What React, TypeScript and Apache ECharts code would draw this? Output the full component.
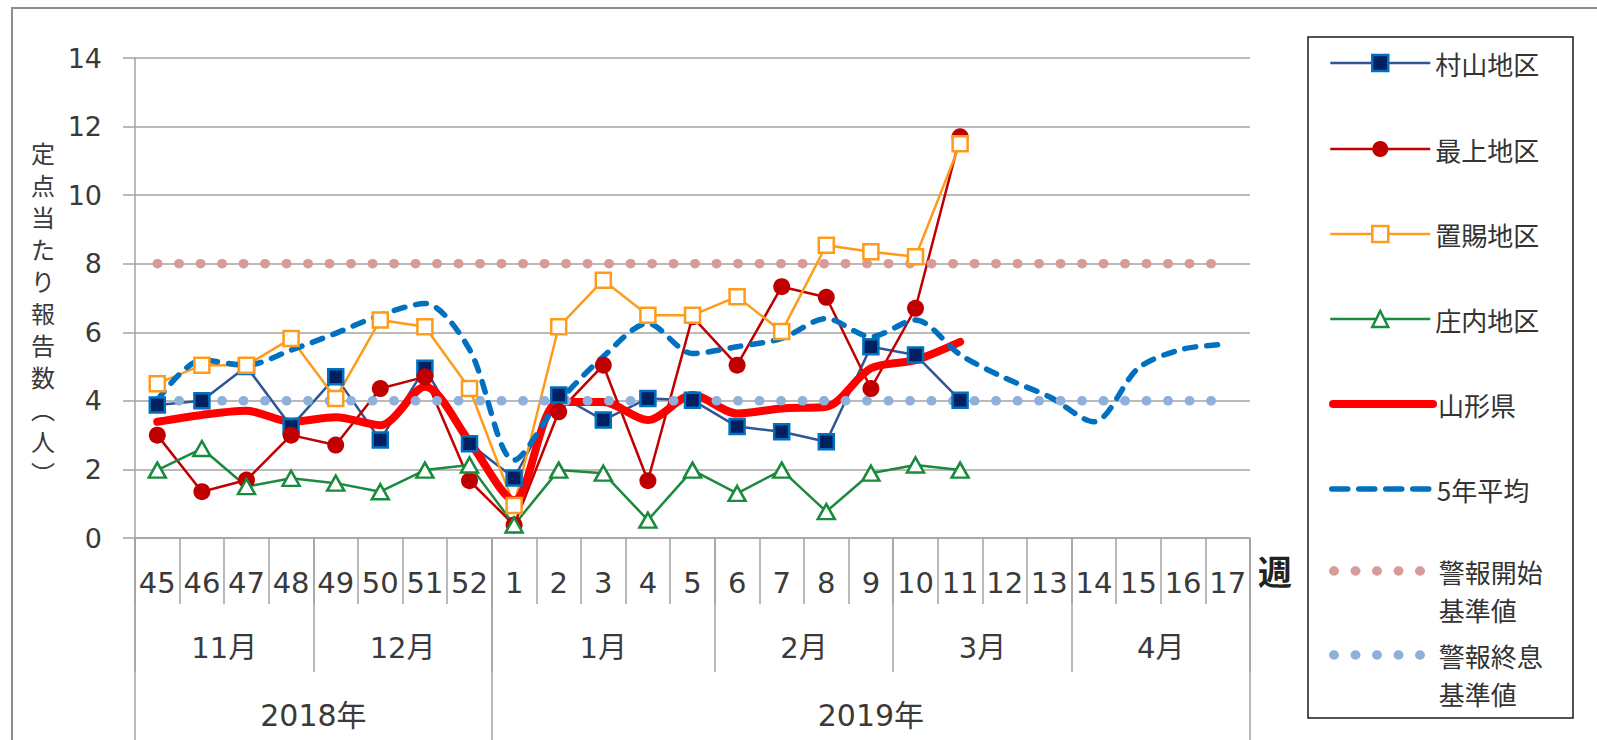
import React, { useEffect, useRef } from 'react';
import * as echarts from 'echarts';

const weeks = ['45', '46', '47', '48', '49', '50', '51', '52', '1', '2', '3', '4', '5', '6', '7', '8', '9', '10', '11', '12', '13', '14', '15', '16', '17'];

const murayama = [3.88, 4.0, 5.0, 3.25, 4.7, 2.86, 4.95, 2.75, 1.75, 4.17, 3.44, 4.07, 4.02, 3.25, 3.1, 2.81, 5.58, 5.34, 4.02];
const mogami = [3.0, 1.35, 1.69, 3.0, 2.71, 4.36, 4.7, 1.67, 0.38, 3.68, 5.04, 1.67, 6.45, 5.04, 7.33, 7.02, 4.36, 6.7, 11.7];
const okitama = [4.5, 5.04, 5.04, 5.82, 4.07, 6.36, 6.16, 4.36, 0.95, 6.16, 7.52, 6.5, 6.5, 7.04, 6.02, 8.54, 8.35, 8.2, 11.5];
const shonai = [1.98, 2.61, 1.5, 1.74, 1.6, 1.35, 1.98, 2.13, 0.38, 1.98, 1.89, 0.52, 1.98, 1.3, 1.98, 0.77, 1.89, 2.13, 1.98];
const yamagata = [3.39, 3.59, 3.71, 3.39, 3.52, 3.29, 4.41, 2.81, 1.1, 3.97, 3.97, 3.44, 4.17, 3.63, 3.78, 3.83, 4.95, 5.19, 5.72];
const avg5 = [4.02, 5.19, 5.04, 5.48, 5.97, 6.5, 6.84, 5.5, 2.27, 3.97, 5.29, 6.26, 5.38, 5.58, 5.82, 6.4, 5.87, 6.36, 5.35, 4.67, 4.12, 3.39, 4.96, 5.51, 5.65];
const alertStart = [8, 8, 8, 8, 8, 8, 8, 8, 8, 8, 8, 8, 8, 8, 8, 8, 8, 8, 8, 8, 8, 8, 8, 8, 8];
const alertEnd = [4, 4, 4, 4, 4, 4, 4, 4, 4, 4, 4, 4, 4, 4, 4, 4, 4, 4, 4, 4, 4, 4, 4, 4, 4];

const monthLabels = ['11月', '12月', '1月', '2月', '3月', '4月'];
const monthSpans = [4, 4, 5, 4, 4, 4];
const yearLabels = ['2018年', '2019年'];
const yearSpans = [8, 17];

const yMin = 0;
const yMax = 14;
const yStep = 2;

const yNameChars = ['定', '点', '当', 'た', 'り', '報', '告', '数', '︵', '人', '︶'];

const seriesNames = ['村山地区', '最上地区', '置賜地区', '庄内地区', '山形県', '5年平均', '警報開始\n基準値', '警報終息\n基準値'];

function buildGroups(labels: string[], spans: number[]) {
  const boundaries = new Set<number>([0]);
  const centers: Record<number, string> = {};
  let acc = 0;
  labels.forEach((lab, i) => {
    const start = acc;
    acc += spans[i];
    boundaries.add(acc * 2);
    centers[start + acc] = lab;
  });
  return { boundaries, centers };
}

const AXIS_GRAY = '#a3a3a3';
const TEXT = '#3a3a3a';

const C_MURA_LINE = '#2f5597';
const C_MURA_FILL = '#002060';
const C_MURA_BORDER = '#0070c0';
const C_MOGAMI = '#c00000';
const C_OKI = '#ff9b1a';
const C_SHONAI = '#1a8a3c';
const C_KEN = '#ff0000';
const C_AVG = '#0070c0';
const C_START = '#d99a9a';
const C_END = '#8fb0d9';

export default function App() {
  const ref = useRef<HTMLDivElement>(null);

  useEffect(() => {
    if (!ref.current) return;
    const chart = echarts.init(ref.current, null, { renderer: 'svg' });

    const halfSlots = Array.from({ length: weeks.length * 2 + 1 }, (_, i) => String(i));
    const months = buildGroups(monthLabels, monthSpans);
    const years = buildGroups(yearLabels, yearSpans);

    const groupAxis = (g: { boundaries: Set<number>; centers: Record<number, string> }, tickLen: number, margin: number, fontSize: number) => ({
      type: 'category',
      gridIndex: 0,
      position: 'bottom',
      data: halfSlots,
      boundaryGap: false,
      axisLine: { show: false, onZero: false },
      axisTick: {
        show: true,
        length: tickLen,
        interval: (index: number) => g.boundaries.has(index),
        lineStyle: { color: AXIS_GRAY, width: 1.5 },
      },
      axisLabel: {
        show: true,
        interval: (index: number) => g.centers[index] !== undefined,
        formatter: (_v: string, index: number) => g.centers[index] ?? '',
        margin,
        fontSize,
        fontFamily: 'DejaVu Sans, Noto Sans CJK JP',
        color: TEXT,
      },
      splitLine: { show: false },
    });

    const lineStyles: any[] = [
      { color: C_MURA_LINE, width: 2.5 },
      { color: C_MOGAMI, width: 2.5 },
      { color: C_OKI, width: 2.5 },
      { color: C_SHONAI, width: 2.5 },
      { color: C_KEN, width: 8, cap: 'round', join: 'round' },
      { color: C_AVG, width: 5.5, type: [11, 11], cap: 'round', join: 'round' },
      { color: C_START, width: 9.5, type: [0.5, 21], cap: 'round' },
      { color: C_END, width: 9.5, type: [0.5, 21], cap: 'round' },
    ];
    const itemStyles: any[] = [
      { color: C_MURA_FILL, borderColor: C_MURA_BORDER, borderWidth: 2.5 },
      { color: C_MOGAMI, borderColor: C_MOGAMI, borderWidth: 0 },
      { color: '#ffffff', borderColor: C_OKI, borderWidth: 2.5 },
      { color: '#ffffff', borderColor: C_SHONAI, borderWidth: 2.5 },
      { color: C_KEN, opacity: 0 },
      { color: C_AVG, opacity: 0 },
      { color: C_START, opacity: 0 },
      { color: C_END, opacity: 0 },
    ];

    const legendCenters = [63, 149, 234, 319, 404, 489, 571, 655];
    const legends = seriesNames.map((name, i) => {
      const twoLine = name.indexOf('\n') >= 0;
      const lh = twoLine ? 38 : 33;
      const ls = { ...lineStyles[i] };
      if (i === 5) ls.type = [16, 11];
      return {
        show: true,
        orient: 'vertical',
        left: 1329,
        top: twoLine ? legendCenters[i] - 57 : legendCenters[i] - 16.5,
        padding: 0,
        itemWidth: 100,
        itemHeight: 20,
        selectedMode: false,
        data: [name],
        formatter: twoLine ? (n: string) => '\n' + n : undefined,
        itemStyle: itemStyles[i],
        lineStyle: ls,
        textStyle: {
          fontSize: 26,
          fontFamily: 'Noto Sans CJK JP',
          color: '#333',
          lineHeight: lh,
        },
      };
    });

    const yName = '{s| }\n' + yNameChars.map((ch) => `{a|${ch}}`).join('\n');

    const option: any = {
      animation: false,
      backgroundColor: '#fff',
      grid: { left: 135, right: 347, top: 58, bottom: 202, containLabel: false, outerBoundsMode: 'none' },
      legend: legends,
      xAxis: [
        {
          type: 'category',
          gridIndex: 0,
          position: 'bottom',
          data: weeks,
          boundaryGap: true,
          axisLine: { show: true, onZero: false, lineStyle: { color: AXIS_GRAY, width: 1.5 } },
          axisTick: { show: true, length: 66, interval: 0, lineStyle: { color: AXIS_GRAY, width: 1.5 } },
          axisLabel: { interval: 0, margin: 30, fontSize: 29, fontFamily: 'DejaVu Sans', color: TEXT },
          splitLine: { show: false },
          name: '週',
          nameLocation: 'end',
          nameGap: 8,
          nameTextStyle: {
            fontSize: 34,
            fontWeight: 'bold',
            fontFamily: 'Noto Sans CJK JP',
            color: '#222',
            align: 'left',
            verticalAlign: 'top',
            padding: [16, 0, 0, 0],
          },
        },
        groupAxis(months, 134, 95, 29),
        groupAxis(years, 220, 162, 30),
      ],
      yAxis: {
        type: 'value',
        min: yMin,
        max: yMax,
        interval: yStep,
        axisLine: { show: true, lineStyle: { color: AXIS_GRAY, width: 1.5 } },
        axisTick: { show: true, length: 12, lineStyle: { color: AXIS_GRAY, width: 1.5 } },
        splitLine: { show: true, lineStyle: { color: AXIS_GRAY, width: 1.5 } },
        axisLabel: { fontSize: 27, fontFamily: 'DejaVu Sans', color: TEXT, margin: 33 },
        name: yName,
        nameLocation: 'middle',
        nameRotate: 0,
        nameGap: 92,
        nameTextStyle: {
          fontSize: 24,
          fontFamily: 'Noto Sans CJK JP',
          color: TEXT,
          align: 'center',
          verticalAlign: 'middle',
          rich: {
            s: { fontSize: 10, lineHeight: 28, color: TEXT },
            a: { fontSize: 24, lineHeight: 32, fontFamily: 'Noto Sans CJK JP', color: TEXT },
          },
        },
      },
      graphic: [
        {
          type: 'rect',
          silent: true,
          shape: { x: 12, y: 8, width: 1700, height: 800 },
          style: { fill: 'none', stroke: '#8c8c8c', lineWidth: 2 },
        },
        {
          type: 'rect',
          silent: true,
          shape: { x: 1308, y: 37, width: 265, height: 681 },
          style: { fill: 'none', stroke: '#1a1a1a', lineWidth: 1.5 },
        },
      ],
      series: [
        {
          name: seriesNames[0],
          type: 'line',
          data: murayama,
          symbol: 'rect',
          symbolSize: 15,
          showAllSymbol: true,
          lineStyle: lineStyles[0],
          itemStyle: itemStyles[0],
        },
        {
          name: seriesNames[1],
          type: 'line',
          data: mogami,
          symbol: 'circle',
          symbolSize: 17,
          showAllSymbol: true,
          lineStyle: lineStyles[1],
          itemStyle: itemStyles[1],
        },
        {
          name: seriesNames[2],
          type: 'line',
          data: okitama,
          symbol: 'rect',
          symbolSize: 15,
          showAllSymbol: true,
          lineStyle: lineStyles[2],
          itemStyle: itemStyles[2],
        },
        {
          name: seriesNames[3],
          type: 'line',
          data: shonai,
          symbol: 'triangle',
          symbolSize: [17, 15],
          showAllSymbol: true,
          lineStyle: lineStyles[3],
          itemStyle: itemStyles[3],
        },
        {
          name: seriesNames[4],
          type: 'line',
          data: yamagata,
          symbol: 'none',
          smooth: 0.3,
          lineStyle: lineStyles[4],
          itemStyle: { color: C_KEN },
        },
        {
          name: seriesNames[5],
          type: 'line',
          data: avg5,
          symbol: 'none',
          smooth: 0.3,
          lineStyle: lineStyles[5],
          itemStyle: { color: C_AVG },
        },
        {
          name: seriesNames[6],
          type: 'line',
          data: alertStart,
          symbol: 'none',
          lineStyle: lineStyles[6],
          itemStyle: { color: C_START },
        },
        {
          name: seriesNames[7],
          type: 'line',
          data: alertEnd,
          symbol: 'none',
          lineStyle: lineStyles[7],
          itemStyle: { color: C_END },
        },
      ],
    };

    chart.setOption(option);
    return () => chart.dispose();
  }, []);

  return (
    <div
      ref={ref}
      style={{ position: 'fixed', left: 0, top: 0, width: 1597, height: 740, background: '#fff' }}
    />
  );
}
